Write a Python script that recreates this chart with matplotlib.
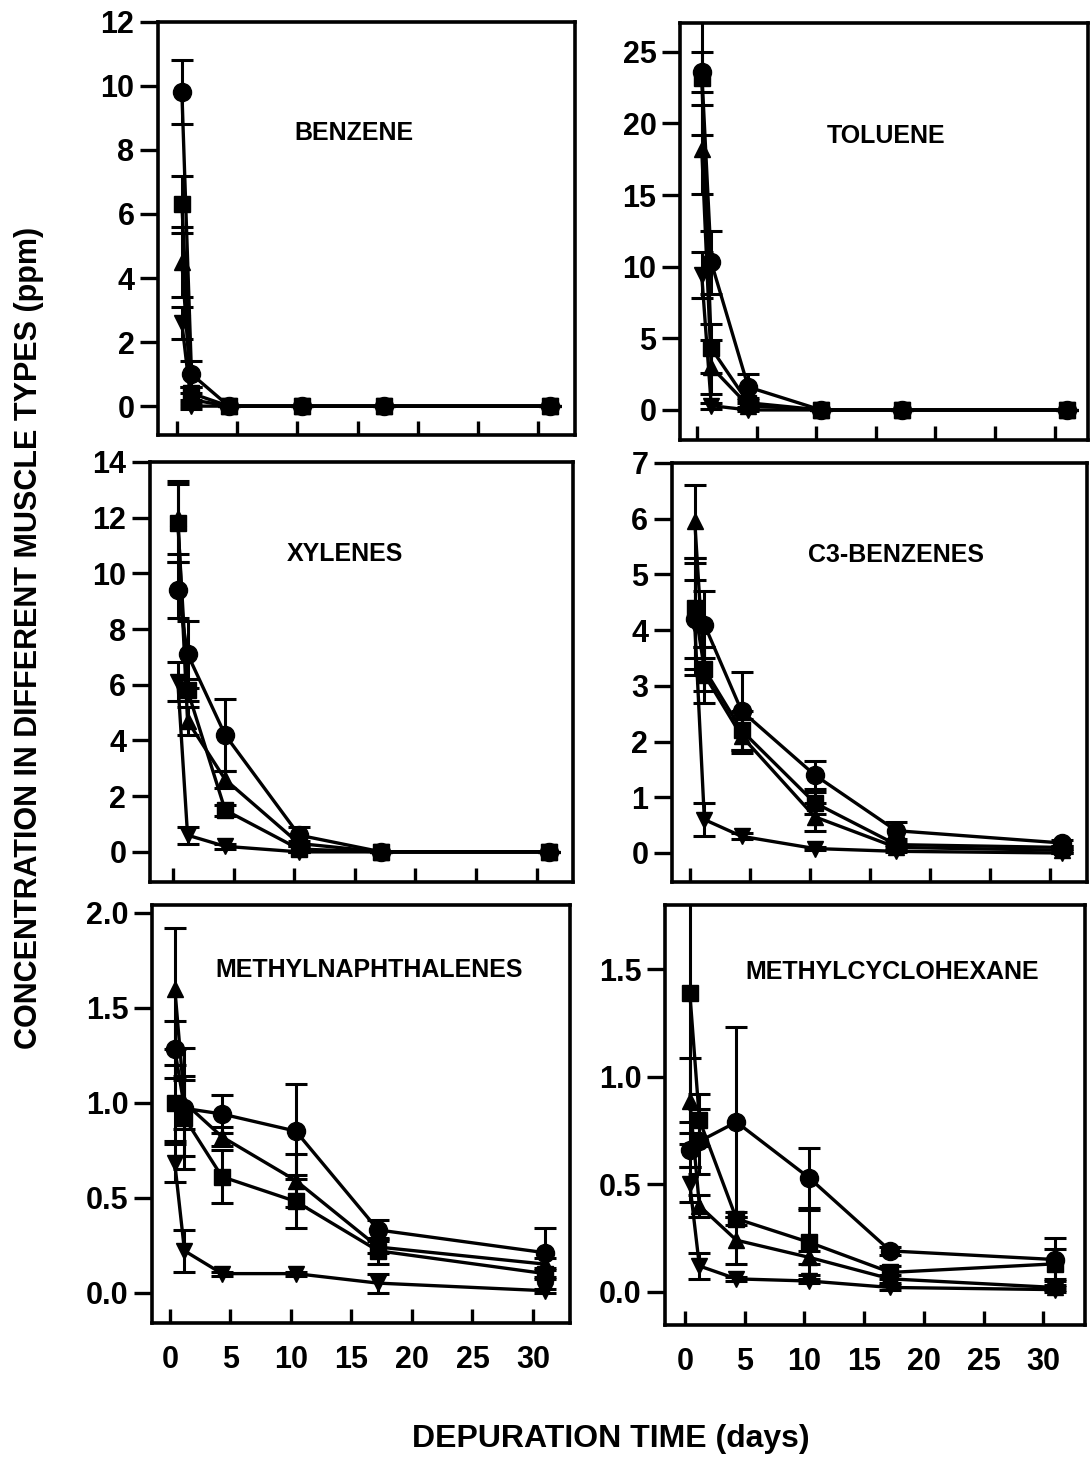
import matplotlib
matplotlib.use("Agg")
import matplotlib.pyplot as plt
import numpy as np

plt.rcParams['font.family'] = ['Liberation Sans', 'DejaVu Sans']
plt.rcParams['font.weight'] = 'bold'

# depuration times (days)
days = [0.4, 1.2, 4.3, 10.4, 17.2, 31.0]

# series order: circle, square, triangle up, triangle down
benzene_mean = [[9.8, 1.0, 0.0, 0.0, 0.0, 0.0],
                [6.3, 0.4, 0.0, 0.0, 0.0, 0.0],
                [4.5, 0.2, 0.0, 0.0, 0.0, 0.0],
                [2.6, 0.0, 0.0, 0.0, 0.0, 0.0]]
benzene_err = [[1.0, 0.4, 0, 0, 0, 0],
               [0.9, 0.2, 0, 0, 0, 0],
               [1.1, 0.2, 0, 0, 0, 0],
               [0.5, 0.1, 0, 0, 0, 0]]

toluene_mean = [[23.6, 10.3, 1.6, 0.0, 0.0, 0.0],
                [23.2, 4.3, 0.5, 0.0, 0.0, 0.0],
                [18.2, 3.0, 0.3, 0.0, 0.0, 0.0],
                [9.4, 0.3, 0.0, 0.0, 0.0, 0.0]]
toluene_err = [[1.4, 2.2, 0.9, 0, 0, 0],
               [4.0, 1.7, 0.3, 0, 0, 0],
               [3.1, 1.9, 0.2, 0, 0, 0],
               [1.6, 0.2, 0.1, 0, 0, 0]]

xylenes_mean = [[9.4, 7.1, 4.2, 0.6, 0.0, 0.0],
                [11.8, 5.8, 1.5, 0.1, 0.0, 0.0],
                [12.0, 4.7, 2.6, 0.3, 0.0, 0.0],
                [6.1, 0.6, 0.2, 0.0, 0.0, 0.0]]
xylenes_err = [[1.0, 1.2, 1.3, 0.3, 0, 0],
               [1.4, 0.4, 0.2, 0.1, 0, 0],
               [1.3, 0.5, 0.3, 0.1, 0, 0],
               [0.7, 0.3, 0.1, 0.0, 0, 0]]

c3_mean = [[4.2, 4.1, 2.55, 1.4, 0.4, 0.18],
           [4.4, 3.3, 2.2, 0.9, 0.15, 0.1],
           [5.95, 3.2, 2.1, 0.65, 0.1, 0.05],
           [4.1, 0.6, 0.3, 0.08, 0.03, 0.0]]
c3_err = [[1.0, 0.6, 0.7, 0.25, 0.15, 0.05],
          [0.9, 0.4, 0.35, 0.2, 0.05, 0.03],
          [0.65, 0.5, 0.3, 0.25, 0.05, 0.02],
          [0.8, 0.3, 0.05, 0.02, 0.02, 0.0]]

mnaph_mean = [[1.28, 0.97, 0.94, 0.85, 0.33, 0.21],
              [1.0, 0.92, 0.61, 0.48, 0.22, 0.10],
              [1.6, 1.0, 0.82, 0.59, 0.24, 0.15],
              [0.68, 0.22, 0.10, 0.10, 0.05, 0.01]]
mnaph_err = [[0.15, 0.32, 0.10, 0.25, 0.05, 0.13],
             [0.20, 0.20, 0.14, 0.14, 0.07, 0.03],
             [0.32, 0.14, 0.05, 0.14, 0.03, 0.03],
             [0.10, 0.11, 0.01, 0.01, 0.05, 0.01]]

mch_mean = [[0.66, 0.70, 0.79, 0.53, 0.19, 0.15],
            [1.39, 0.80, 0.34, 0.23, 0.09, 0.13],
            [0.89, 0.40, 0.24, 0.16, 0.06, 0.02],
            [0.50, 0.12, 0.06, 0.05, 0.02, 0.01]]
mch_err = [[0.08, 0.15, 0.44, 0.14, 0.02, 0.10],
           [0.60, 0.12, 0.03, 0.15, 0.03, 0.07],
           [0.20, 0.05, 0.11, 0.03, 0.02, 0.01],
           [0.08, 0.06, 0.01, 0.01, 0.01, 0.01]]

panels = [
    ("BENZENE", benzene_mean, benzene_err, (-0.9, 12), np.arange(0, 13, 2), "%d",
     [0.145, 0.7019, 0.3826, 0.2831], (-1.58, 33.08), (0.47, 0.73)),
    ("TOLUENE", toluene_mean, toluene_err, (-2.1, 27), np.arange(0, 26, 5), "%d",
     [0.6239, 0.6984, 0.3743, 0.2858], (-1.42, 32.8), (0.505, 0.73)),
    ("XYLENES", xylenes_mean, xylenes_err, (-1.08, 14), np.arange(0, 15, 2), "%d",
     [0.1376, 0.3955, 0.3881, 0.2879], (-1.9, 33.0), (0.46, 0.78)),
    ("C3-BENZENES", c3_mean, c3_err, (-0.52, 7), np.arange(0, 8, 1), "%d",
     [0.6165, 0.3955, 0.3807, 0.2872], (-1.5, 33.1), (0.54, 0.78)),
    ("METHYLNAPHTHALENES", mnaph_mean, mnaph_err, (-0.16, 2.04), np.arange(0, 2.01, 0.5), "%.1f",
     [0.1394, 0.0932, 0.3835, 0.2865], (-1.49, 33.06), (0.52, 0.845)),
    ("METHYLCYCLOHEXANE", mch_mean, mch_err, (-0.155, 1.80), np.arange(0, 1.51, 0.5), "%.1f",
     [0.6101, 0.0918, 0.3853, 0.2879], (-1.68, 33.5), (0.54, 0.84)),
]

markers = ['o', 's', '^', 'v']
sizes = [13, 11, 12, 12]
draw_order = [3, 2, 1, 0]

fig = plt.figure(figsize=(10.9, 14.59), dpi=100)

for i, (name, means, errs, ylim, yt, fmt, pos, xlim, tpos) in enumerate(panels):
    ax = fig.add_axes(pos)
    for k in draw_order:
        ax.errorbar(days, means[k], yerr=errs[k], fmt='-', marker=markers[k],
                    color='black', ms=sizes[k], lw=2.4, elinewidth=2.2, capsize=8,
                    capthick=2.2, zorder=3 + (3 - k))
    ax.set_xlim(*xlim)
    ax.set_ylim(*ylim)
    ax.set_yticks(yt)
    ax.set_yticklabels([fmt % v for v in yt])
    ax.set_xticks(np.arange(0, 31, 5))
    ax.tick_params(axis='y', direction='out', length=13, width=2.4, labelsize=22, pad=4)
    ax.tick_params(axis='x', direction='in', length=10, width=2.4, labelsize=22, pad=16)
    if i < 4:
        ax.set_xticklabels([])
    for sp in ax.spines.values():
        sp.set_linewidth(2.6)
    ax.text(tpos[0], tpos[1], name, transform=ax.transAxes, ha='center', va='center',
            fontsize=18, fontweight='bold')

fig.text(0.027, 0.563, "CONCENTRATION IN DIFFERENT MUSCLE TYPES (ppm)", rotation=90,
         ha='center', va='center', fontsize=22, fontweight='bold')
fig.text(0.56, 0.014, "DEPURATION TIME (days)", ha='center', va='center',
         fontsize=23, fontweight='bold')

fig.savefig("out.png", dpi=100)
